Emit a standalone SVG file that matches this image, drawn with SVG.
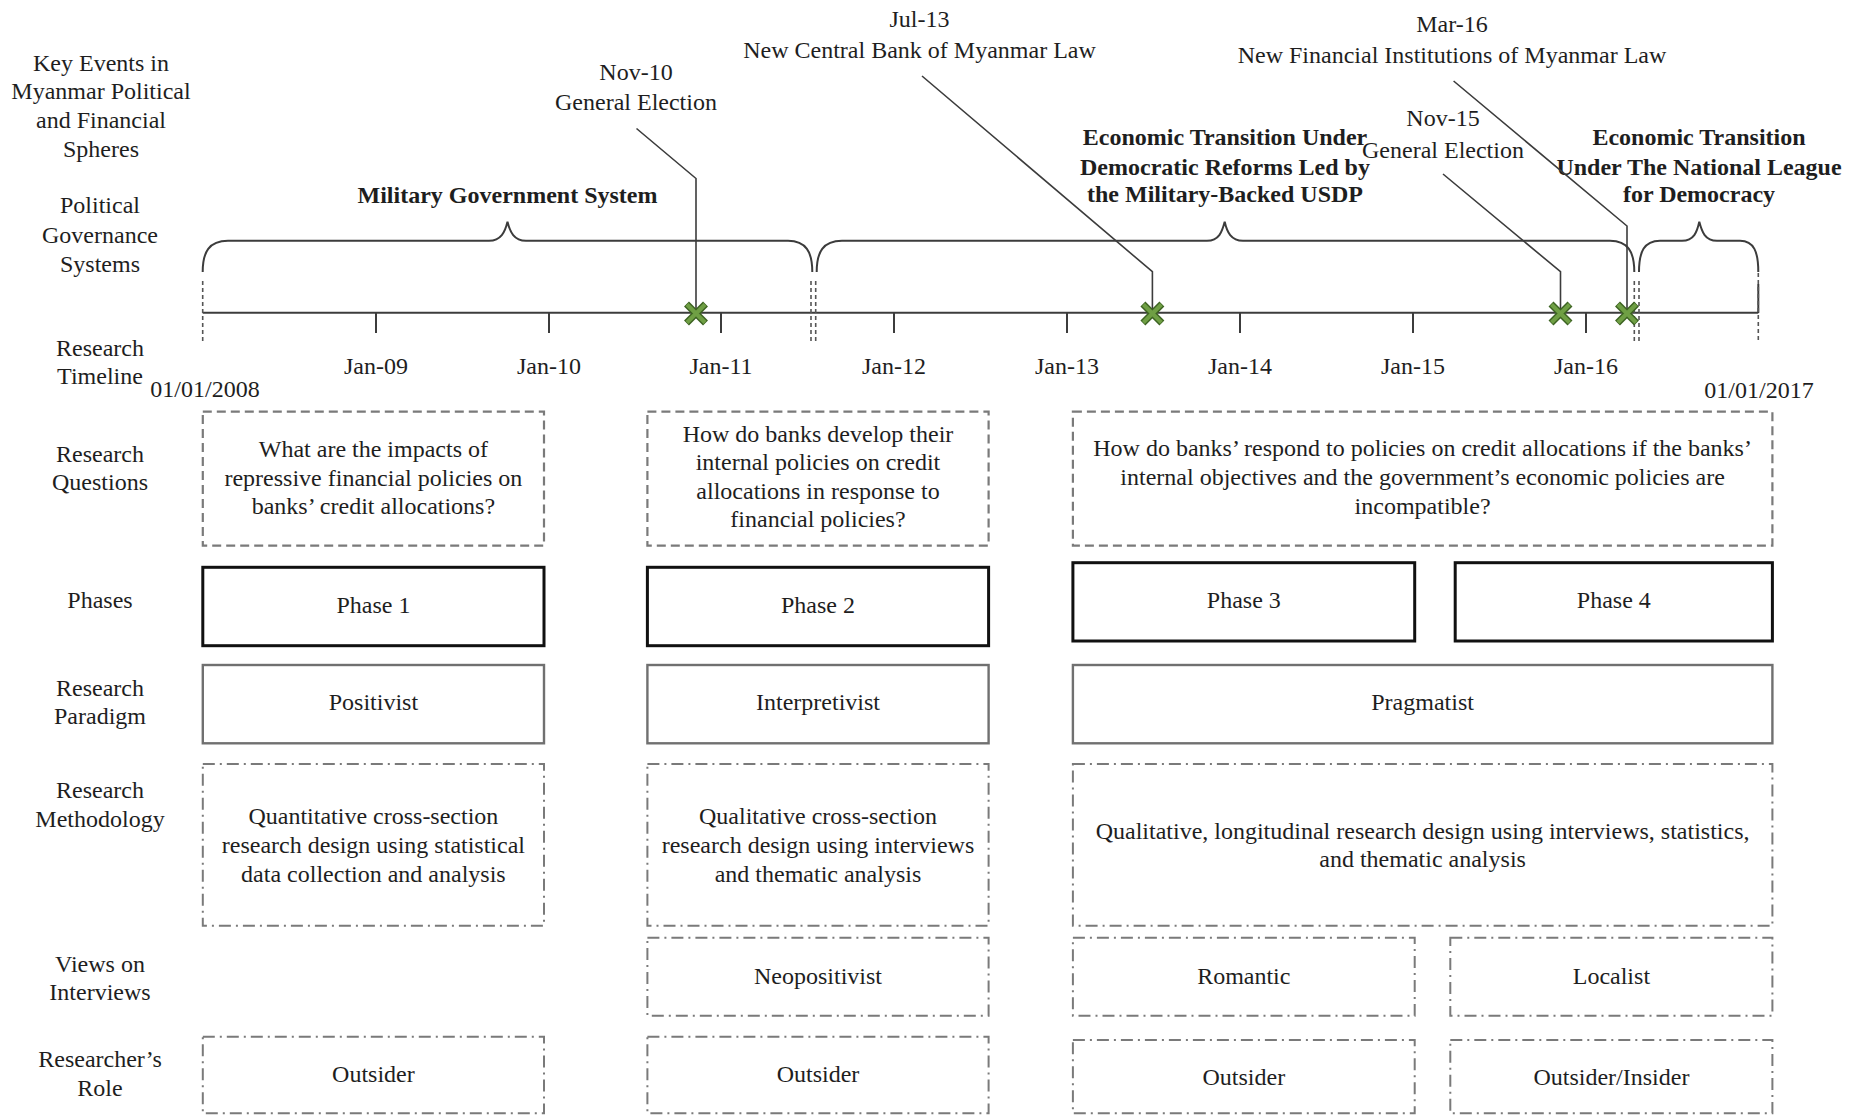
<svg xmlns="http://www.w3.org/2000/svg" width="1859" height="1115" viewBox="0 0 1859 1115">
<defs>
<style>
text{font-family:"Liberation Serif","Times New Roman",serif;font-size:24px;fill:#1e1e1e;text-anchor:middle}
.b{font-weight:bold}
.ln{fill:none;stroke:#3c3c3c;stroke-width:2}
.lead{fill:none;stroke:#3c3c3c;stroke-width:1.6}
.dv{fill:none;stroke:#555;stroke-width:1.6;stroke-dasharray:4 3}
.rq{fill:#fff;stroke:#7a7a7a;stroke-width:2.2;stroke-dasharray:9 5}
.ph{fill:#fff;stroke:#111;stroke-width:3}
.pd{fill:#fff;stroke:#707070;stroke-width:2.4}
.dd{fill:#fff;stroke:#7a7a7a;stroke-width:2;stroke-dasharray:12 5 2 5}
</style>
<g id="xmark">
<path d="M-9.5,-9.5 L9.5,9.5 M9.5,-9.5 L-9.5,9.5" stroke="#3d6322" stroke-width="7"/>
<path d="M-9,-9 L9,9 M9,-9 L-9,9" stroke="#6f9f44" stroke-width="4"/>
</g>
</defs>
<rect width="1859" height="1115" fill="#fff"/>

<g id="row-labels">
<text x="101" y="71">Key Events in</text>
<text x="101" y="99">Myanmar Political</text>
<text x="101" y="128">and Financial</text>
<text x="101" y="157">Spheres</text>
<text x="100" y="213">Political</text>
<text x="100" y="243">Governance</text>
<text x="100" y="272">Systems</text>
<text x="100" y="356">Research</text>
<text x="100" y="384">Timeline</text>
<text x="100" y="462">Research</text>
<text x="100" y="490">Questions</text>
<text x="100" y="608">Phases</text>
<text x="100" y="696">Research</text>
<text x="100" y="724">Paradigm</text>
<text x="100" y="798">Research</text>
<text x="100" y="827">Methodology</text>
<text x="100" y="972">Views on</text>
<text x="100" y="1000">Interviews</text>
<text x="100" y="1067">Researcher’s</text>
<text x="100" y="1096">Role</text>
</g>

<g id="timeline">
<line class="ln" x1="202.7" y1="312.7" x2="1758.3" y2="312.7"/>
<g class="ln">
<line x1="376" y1="313" x2="376" y2="333"/>
<line x1="549" y1="313" x2="549" y2="333"/>
<line x1="721" y1="313" x2="721" y2="333"/>
<line x1="894" y1="313" x2="894" y2="333"/>
<line x1="1067" y1="313" x2="1067" y2="333"/>
<line x1="1240" y1="313" x2="1240" y2="333"/>
<line x1="1413" y1="313" x2="1413" y2="333"/>
<line x1="1586" y1="313" x2="1586" y2="333"/>
<line x1="1758.3" y1="284" x2="1758.3" y2="313"/>
</g>
<line class="dv" x1="202.7" y1="281" x2="202.7" y2="343"/>
<line class="dv" x1="811" y1="281" x2="811" y2="343"/>
<line class="dv" x1="815.7" y1="281" x2="815.7" y2="343"/>
<line class="dv" x1="1634.3" y1="281" x2="1634.3" y2="343"/>
<line class="dv" x1="1639" y1="281" x2="1639" y2="343"/>
<line class="dv" x1="1758.3" y1="273" x2="1758.3" y2="343"/>
<text x="376" y="374">Jan-09</text>
<text x="549" y="374">Jan-10</text>
<text x="721" y="374">Jan-11</text>
<text x="894" y="374">Jan-12</text>
<text x="1067" y="374">Jan-13</text>
<text x="1240" y="374">Jan-14</text>
<text x="1413" y="374">Jan-15</text>
<text x="1586" y="374">Jan-16</text>
<text x="205" y="397">01/01/2008</text>
<text x="1759" y="398">01/01/2017</text>
</g>

<g id="governance">
<path class="ln" d="M202.7,272 C202.7,252 209,240.7 228,240.7 L489,240.7 C501,240.7 505,232 507.5,221.7 C510,232 514,240.7 526,240.7 L788,240.7 C806,240.7 812.3,252 812.3,272"/>
<path class="ln" d="M816.7,272 C816.7,252 823,240.7 842,240.7 L1207,240.7 C1219,240.7 1222,232 1224.7,221.7 C1227,232 1231,240.7 1243,240.7 L1610,240.7 C1628,240.7 1634.3,252 1634.3,272"/>
<path class="ln" d="M1639,272 C1639,252 1644,240.7 1660,240.7 L1682,240.7 C1694,240.7 1697,232 1699.3,221.7 C1702,232 1705,240.7 1717,240.7 L1740,240.7 C1754,240.7 1758.3,252 1758.3,272"/>
<text class="b" x="507.5" y="203">Military Government System</text>
<text class="b" x="1225" y="145">Economic Transition Under</text>
<text class="b" x="1225" y="175">Democratic Reforms Led by</text>
<text class="b" x="1225" y="202">the Military-Backed USDP</text>
<text class="b" x="1699" y="145">Economic Transition</text>
<text class="b" x="1699" y="175">Under The National League</text>
<text class="b" x="1699" y="202">for Democracy</text>
</g>

<g id="connectors">
<polyline class="lead" points="636.5,128.5 696,178.5 696,312"/>
<polyline class="lead" points="922,76 1152.4,271.7 1152.4,312"/>
<polyline class="lead" points="1453.6,81 1627,226 1627,312"/>
<polyline class="lead" points="1443,174 1560.5,271.7 1560.5,312"/>
</g>

<g id="events">
<g id="ev-nov10"><text x="636" y="80">Nov-10</text><text x="636" y="110">General Election</text><use href="#xmark" x="696" y="313.5"/></g>
<g id="ev-jul13"><text x="919.5" y="27">Jul-13</text><text x="919.5" y="58">New Central Bank of Myanmar Law</text><use href="#xmark" x="1152.4" y="313.5"/></g>
<g id="ev-nov15"><text x="1443" y="126">Nov-15</text><text x="1443" y="158">General Election</text><use href="#xmark" x="1560.5" y="313.5"/></g>
<g id="ev-mar16"><text x="1452" y="32">Mar-16</text><text x="1452" y="63">New Financial Institutions of Myanmar Law</text><use href="#xmark" x="1627" y="313.5"/></g>
</g>

<g id="rq1"><rect class="rq" x="202.8" y="411.7" width="341.2" height="134"/>
<text x="373.4" y="457">What are the impacts of</text><text x="373.4" y="486">repressive financial policies on</text><text x="373.4" y="514">banks’ credit allocations?</text></g>
<g id="rq2"><rect class="rq" x="647.4" y="411.7" width="341.2" height="134"/>
<text x="818" y="442">How do banks develop their</text><text x="818" y="470">internal policies on credit</text><text x="818" y="498.5">allocations in response to</text><text x="818" y="527">financial policies?</text></g>
<g id="rq3"><rect class="rq" x="1072.9" y="411.7" width="699.5" height="134"/>
<text x="1422.6" y="456">How do banks’ respond to policies on credit allocations if the banks’</text><text x="1422.6" y="485">internal objectives and the government’s economic policies are</text><text x="1422.6" y="513.5">incompatible?</text></g>

<g id="phase1"><rect class="ph" x="202.8" y="567.3" width="341.2" height="78.4"/><text x="373.4" y="613">Phase 1</text></g>
<g id="phase2"><rect class="ph" x="647.4" y="567.3" width="341.2" height="78.4"/><text x="818" y="613">Phase 2</text></g>
<g id="phase3"><rect class="ph" x="1072.9" y="562.7" width="341.8" height="78.3"/><text x="1243.8" y="608">Phase 3</text></g>
<g id="phase4"><rect class="ph" x="1455.2" y="562.7" width="317.2" height="78.3"/><text x="1613.8" y="608">Phase 4</text></g>

<g id="paradigm1"><rect class="pd" x="202.8" y="665" width="341.2" height="78.3"/><text x="373.4" y="710">Positivist</text></g>
<g id="paradigm2"><rect class="pd" x="647.4" y="665" width="341.2" height="78.3"/><text x="818" y="710">Interpretivist</text></g>
<g id="paradigm3"><rect class="pd" x="1072.9" y="665" width="699.5" height="78.3"/><text x="1422.6" y="710">Pragmatist</text></g>

<g id="method1"><rect class="dd" x="202.8" y="764" width="341.2" height="161.7"/>
<text x="373.4" y="823.5">Quantitative cross-section</text><text x="373.4" y="852.5">research design using statistical</text><text x="373.4" y="881.5">data collection and analysis</text></g>
<g id="method2"><rect class="dd" x="647.4" y="764" width="341.2" height="161.7"/>
<text x="818" y="823.5">Qualitative cross-section</text><text x="818" y="852.5">research design using interviews</text><text x="818" y="881.5">and thematic analysis</text></g>
<g id="method3"><rect class="dd" x="1072.9" y="764" width="699.5" height="161.7"/>
<text x="1422.6" y="838.5">Qualitative, longitudinal research design using interviews, statistics,</text><text x="1422.6" y="867">and thematic analysis</text></g>

<g id="views2"><rect class="dd" x="647.4" y="937.7" width="341.2" height="78"/><text x="818" y="983.5">Neopositivist</text></g>
<g id="views3"><rect class="dd" x="1072.9" y="937.7" width="341.8" height="78"/><text x="1243.8" y="983.5">Romantic</text></g>
<g id="views4"><rect class="dd" x="1450.3" y="937.7" width="322.1" height="78"/><text x="1611.4" y="983.5">Localist</text></g>

<g id="role1"><rect class="dd" x="202.8" y="1036.7" width="341.2" height="76.6"/><text x="373.4" y="1082">Outsider</text></g>
<g id="role2"><rect class="dd" x="647.4" y="1036.7" width="341.2" height="76.6"/><text x="818" y="1082">Outsider</text></g>
<g id="role3"><rect class="dd" x="1072.9" y="1040" width="341.8" height="73.3"/><text x="1243.8" y="1085">Outsider</text></g>
<g id="role4"><rect class="dd" x="1450.3" y="1040" width="322.1" height="73.3"/><text x="1611.4" y="1085">Outsider/Insider</text></g>
</svg>
